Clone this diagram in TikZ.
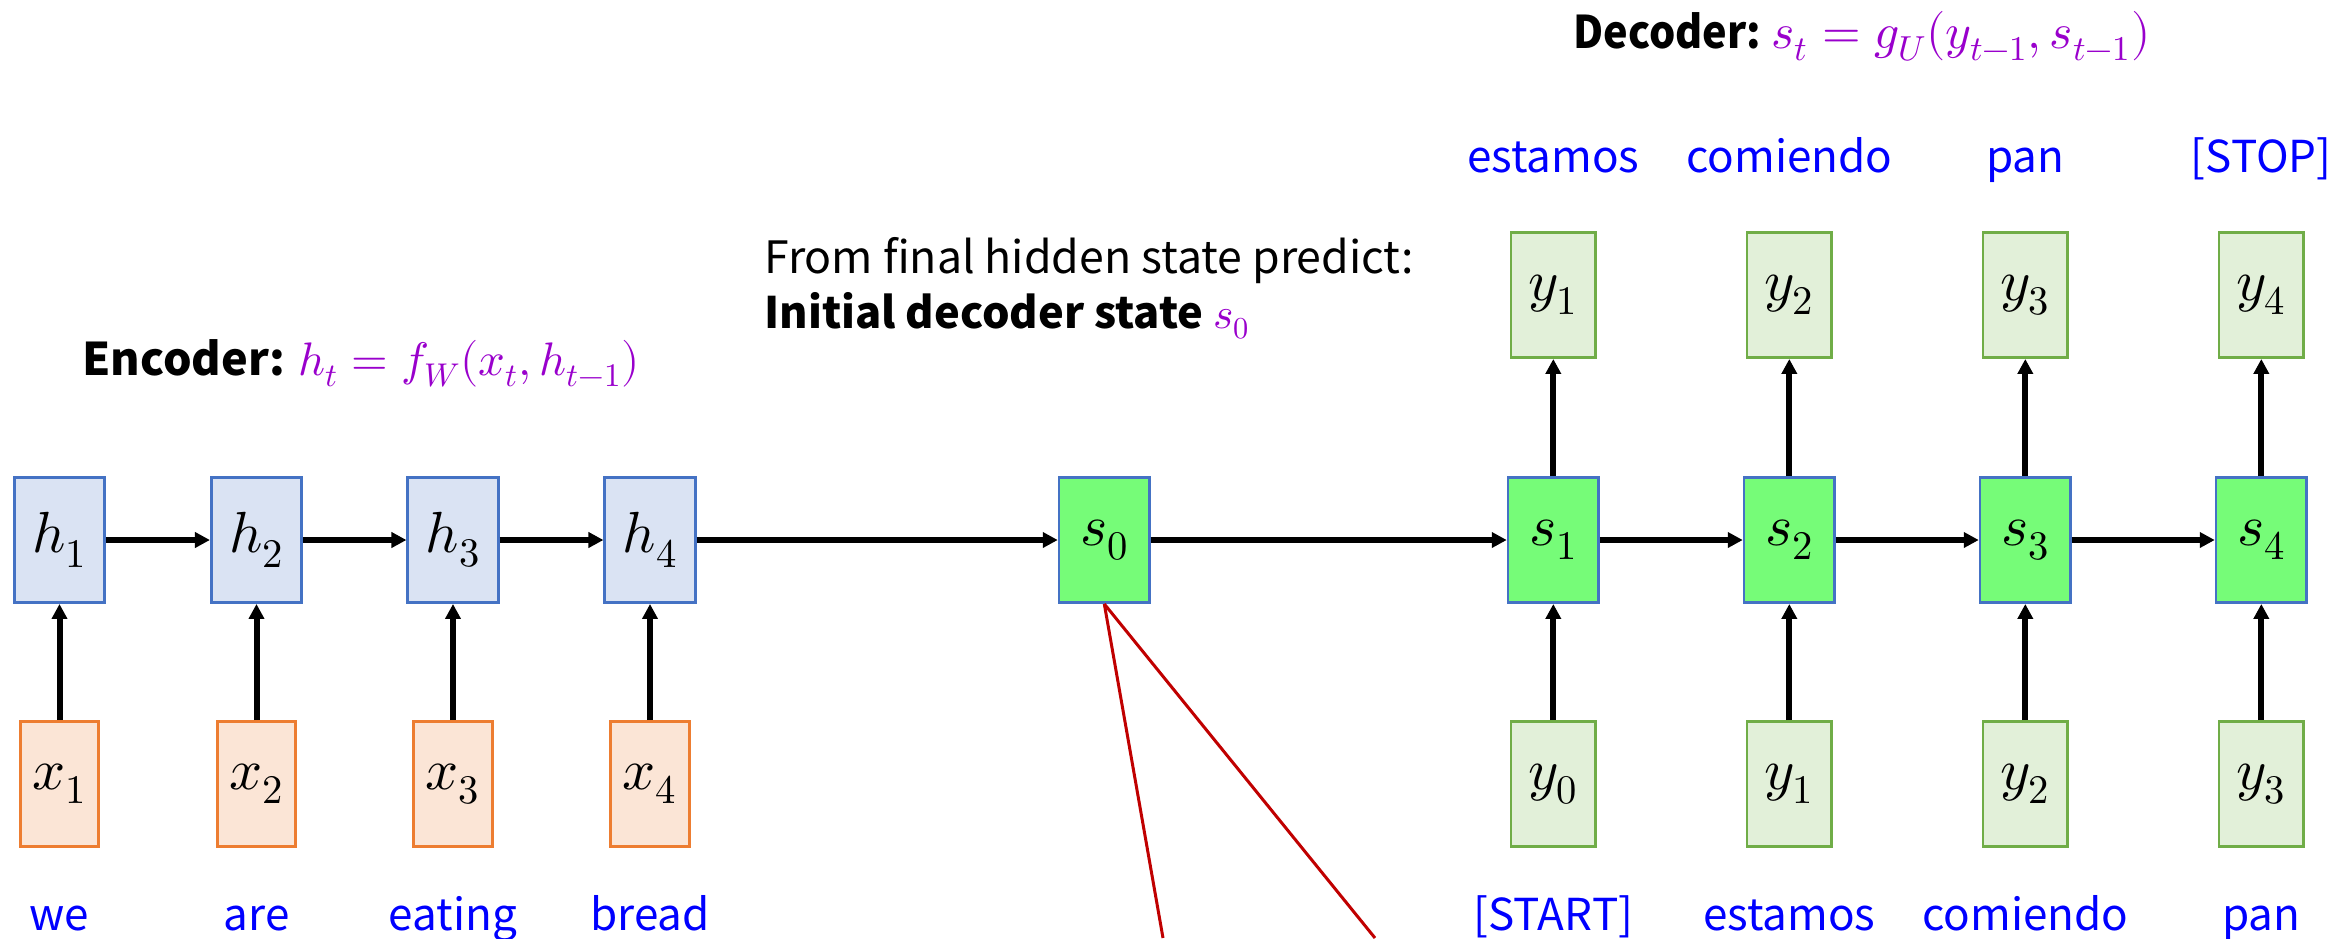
\documentclass[tikz,border=0pt]{standalone}
\usepackage{graphicx}
\usepackage{fontspec}
\usepackage{unicode-math}
\setmainfont{Noto Sans CJK SC}
\setmathfont{Latin Modern Math}
\usetikzlibrary{arrows.meta}

\definecolor{encfill}{HTML}{DAE3F3}
\definecolor{encborder}{HTML}{4472C4}
\definecolor{infill}{HTML}{FBE5D6}
\definecolor{inborder}{HTML}{ED7D31}
\definecolor{decfill}{RGB}{118,252,120}
\definecolor{outfill}{HTML}{E2F0D9}
\definecolor{outborder}{HTML}{70AD47}
\definecolor{wordblue}{HTML}{0000FF}
\definecolor{mathpurple}{RGB}{153,0,204}
\definecolor{linkred}{HTML}{C00000}

\begin{document}
\begin{tikzpicture}[x=0.5pt,y=-0.5pt,
  cell/.style={draw, line width=1.35pt, inner sep=0pt, minimum height=62.6pt,
               font=\fontsize{29}{32}\selectfont},
  hcell/.style={cell, fill=encfill, draw=encborder, minimum width=45.2pt},
  xcell/.style={cell, fill=infill, draw=inborder, minimum width=39.2pt},
  scell/.style={cell, fill=decfill, draw=encborder, minimum width=45.2pt},
  ycell/.style={cell, fill=outfill, draw=outborder, minimum width=42.2pt},
  flow/.style={-{Triangle[length=7.5pt,width=7.5pt]}, line width=3pt},
  link/.style={draw=linkred, line width=1.5pt},
  word/.style={text=wordblue, anchor=base, inner sep=0pt, font=\fontsize{22}{26}\selectfont},
  heading/.style={anchor=base west, inner sep=0pt, font=\fontsize{22.5}{28}\selectfont},
  note/.style={anchor=base west, inner sep=0pt, font=\fontsize{22.3}{26}\selectfont}]

\useasboundingbox (0,0) rectangle (2333,938);

% encoder: inputs, hidden states, source words
\foreach \i/\cx/\w in {1/59.5/we, 2/256.5/are, 3/453/eating, 4/650/bread}{
  \node[hcell] (h\i) at (\cx,540) {$h_{\i}$};
  \node[xcell] (x\i) at (\cx,784) {$x_{\i}$};
  \node[word] (src\i) at (\cx,930) {\w};
  \draw[flow] (x\i) -- (h\i);
}
\foreach \i/\j in {1/2, 2/3, 3/4}{
  \draw[flow] (h\i) -- (h\j);
}

% initial decoder state
\node[scell] (s0) at (1104.3,540) {$s_0$};
\draw[flow] (h4) -- (s0);

% decoder: states, inputs, outputs, words
\foreach \i/\cx/\inw/\outw in {1/1553.3/[START]/estamos, 2/1789.3/estamos/comiendo,
                              3/2025.3/comiendo/pan, 4/2261.3/pan/[STOP]}{
  \pgfmathtruncatemacro{\p}{\i-1}
  \node[scell] (s\i) at (\cx,540) {$s_{\i}$};
  \node[ycell] (yin\i) at (\cx,784) {$y_{\p}$};
  \node[ycell] (yout\i) at (\cx,295) {$y_{\i}$};
  \node[word] (tin\i) at (\cx,930) {\inw};
  \node[word] (tout\i) at (\cx,172) {\outw};
  \draw[flow] (yin\i) -- (s\i);
  \draw[flow] (s\i) -- (yout\i);
}
\draw[flow] (s0) -- (s1);
\foreach \i/\j in {1/2, 2/3, 3/4}{
  \draw[flow] (s\i) -- (s\j);
}

% headings
\node[heading] (enclabel) at (82,375)
  {\textbf{Encoder:} \textcolor{mathpurple}{\fontsize{23.5}{28}\selectfont$h_t = f_W(x_t, h_{t-1})$}};
\node[heading] (declabel) at (1573,48)
  {\scalebox{0.92}[1]{\textbf{Decoder:}} \textcolor{mathpurple}{\fontsize{24.8}{28}\selectfont$s_t = g_U(y_{t-1}, s_{t-1})$}};
\node[note] (predict) at (764,273) {From final hidden state predict:};
\node[note, font=\fontsize{21.7}{26}\selectfont] (initstate) at (764,328)
  {\textbf{Initial decoder state} \textcolor{mathpurple}{$s_0$}};

% red guide lines leaving the initial state
\coordinate (linkA) at (1163,938);
\coordinate (linkB) at (1375,938);
\draw[link] (s0.south) -- (linkA);
\draw[link] (s0.south) -- (linkB);
\end{tikzpicture}
\end{document}
